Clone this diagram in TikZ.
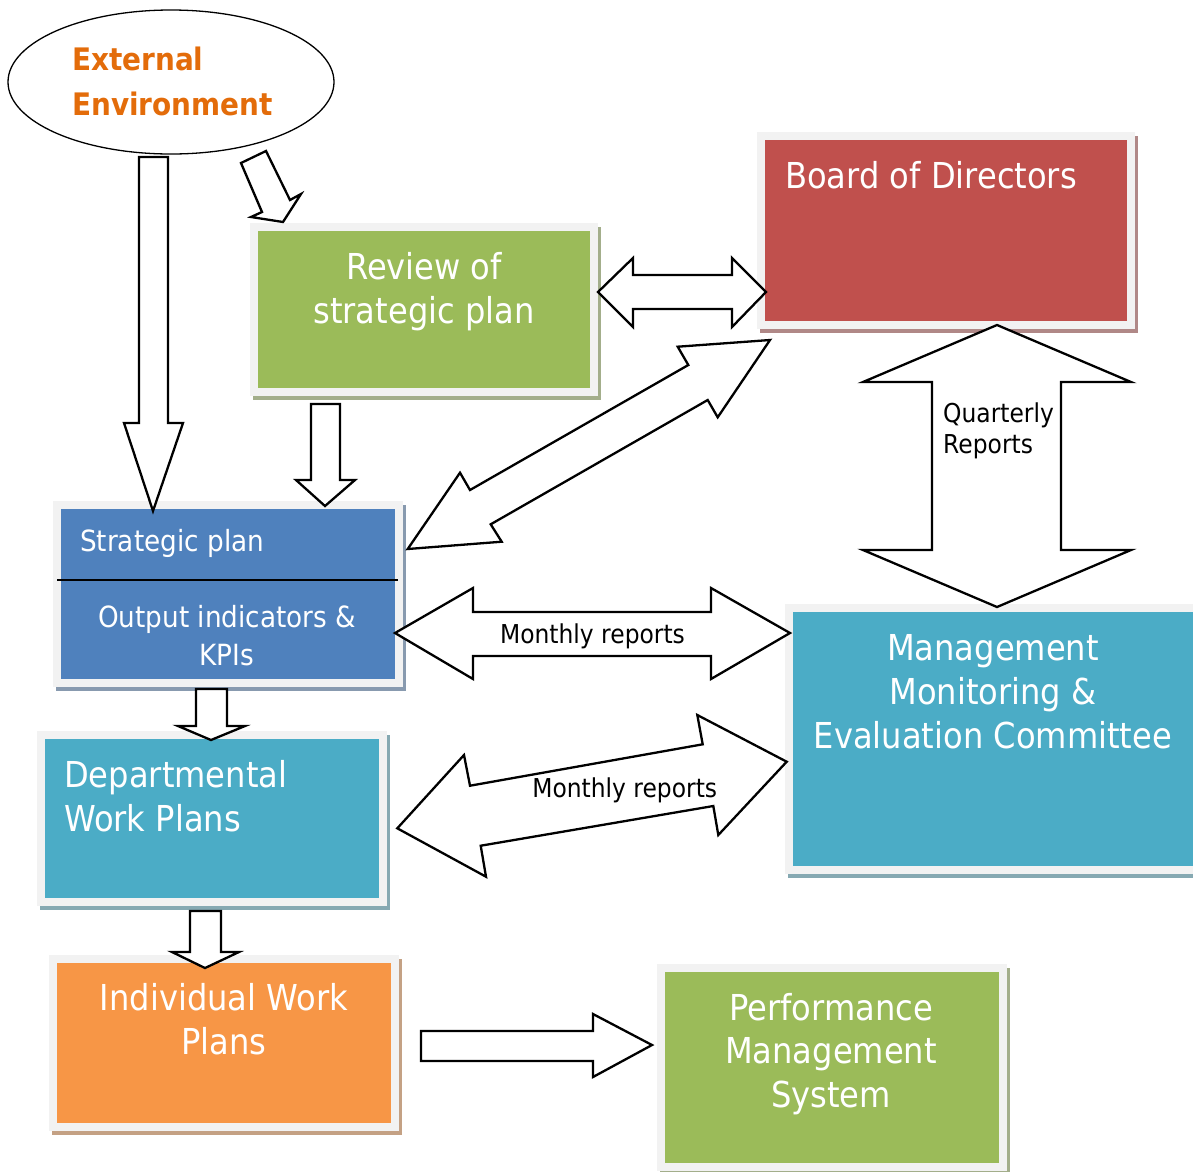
\documentclass[tikz,border=0pt]{standalone}
\usepackage{fontspec}
\setmainfont{DejaVu Sans}[FakeStretch=0.9]
\usetikzlibrary{shapes.geometric}
\definecolor{cgreen}{HTML}{9BBB59}
\definecolor{cred}{HTML}{C0504D}
\definecolor{cblue}{HTML}{4F81BD}
\definecolor{cteal}{HTML}{4BACC6}
\definecolor{corange}{HTML}{F79646}
\definecolor{ctext}{HTML}{E36C0A}
\definecolor{cframe}{HTML}{F2F2F2}
\newcommand\fbig{\fontsize{35.7}{43}\selectfont}
\newcommand\fmid{\fontsize{29.2}{36}\selectfont}
\newcommand\fsmall{\fontsize{26}{31}\selectfont}
\newcommand\fext{\bfseries\fontsize{31}{40}\selectfont}
% name, x1, y1, x2, y2, colour
\newcommand\panel[6]{%
  \fill[#6!45!gray!80] (#2+3,#3+4) rectangle (#4+3,#5+4);
  \fill[cframe] (#2,#3) rectangle (#4,#5);
  \node[fill=#6, inner sep=0, minimum width={#4-#2-16}, minimum height={#5-#3-16}]
     (#1) at ({(#2+#4)/2},{(#3+#5)/2}) {};
}
\tikzset{
  blk/.style={draw=black, fill=white, line width=2.3pt, line join=miter},
  wtxt/.style={text=white, inner sep=0},
  btxt/.style={text=black, inner sep=0},
}
\begin{document}
\begin{tikzpicture}[x=1pt, y=-1pt]
\useasboundingbox (0,0) rectangle (1193,1171);
\clip (0,0) rectangle (1193,1171);

% panels
\panel{review}{250}{223}{598}{396}{cgreen}
\panel{board}{757}{132}{1135}{329}{cred}
\panel{strat}{53}{501}{403}{687}{cblue}
\panel{mgmt}{785}{604}{1209}{874}{cteal}
\panel{dept}{37}{731}{387}{906}{cteal}
\panel{indiv}{49}{955}{399}{1131}{corange}
\panel{perf}{657}{964}{1007}{1171}{cgreen}
\draw[line width=2pt] (57,580) -- (398,580);

% ellipse
\node[draw, ellipse, line width=1.3pt, minimum width=326, minimum height=144, inner sep=0] (ext) at (171,82) {};
\node[anchor=base west, text=ctext, inner sep=0, font=\fext] (ext1) at (72,70) {External};
\node[anchor=base west, text=ctext, inner sep=0, font=\fext] (ext2) at (72,115) {Environment};

% texts in panels
\node[wtxt, anchor=base, font=\fbig] (rv1) at (424,279) {Review of};
\node[wtxt, anchor=base, font=\fbig] (rv2) at (424,323) {strategic plan};
\node[wtxt, anchor=base west, font=\fbig] (bd1) at (785,188) {Board of Directors};
\node[wtxt, anchor=base west, font=\fmid] (sp1) at (80,551) {Strategic plan};
\node[wtxt, anchor=base, font=\fmid] (sp2) at (227,627) {Output indicators \&};
\node[wtxt, anchor=base, font=\fmid] (sp3) at (227,665) {KPIs};
\node[wtxt, anchor=base, font=\fbig] (mg1) at (993,660) {Management};
\node[wtxt, anchor=base, font=\fbig] (mg2) at (993,704) {Monitoring \&};
\node[wtxt, anchor=base, font=\fbig] (mg3) at (993,748) {Evaluation Committee};
\node[wtxt, anchor=base west, font=\fbig] (dp1) at (64,787) {Departmental};
\node[wtxt, anchor=base west, font=\fbig] (dp2) at (64,831) {Work Plans};
\node[wtxt, anchor=base, font=\fbig] (iw1) at (224,1010) {Individual Work};
\node[wtxt, anchor=base, font=\fbig] (iw2) at (224,1054) {Plans};
\node[wtxt, anchor=base, font=\fbig] (pm1) at (831,1020) {Performance};
\node[wtxt, anchor=base, font=\fbig] (pm2) at (831,1063) {Management};
\node[wtxt, anchor=base, font=\fbig] (pm3) at (831,1107) {System};

% block arrows
\draw[blk] (139,157) -- (168,157) -- (168,423) -- (183,423) -- (153,511) -- (124,423) -- (139,423) -- cycle;
\draw[blk] (241,163) -- (266,151) -- (290,200) -- (301,194) -- (283,222) -- (251,217) -- (262,212) -- cycle;
\draw[blk] (311,404) -- (340,404) -- (340,480) -- (355,480) -- (325,506) -- (296,480) -- (311,480) -- cycle;
\draw[blk] (598,292) -- (633,258) -- (633,275) -- (732,275) -- (732,258) -- (766,292) -- (732,327) -- (732,309) -- (633,309) -- (633,327) -- cycle;
\draw[blk] (770,340) -- (677.7,346.7) -- (688.3,365) -- (470,490) -- (460,472.7) -- (407.7,549) -- (501.7,541.7) -- (490.7,524.3) -- (707.7,400) -- (717.7,417.3) -- cycle;
\draw[blk] (997,325) -- (1131,382) -- (1061,382) -- (1061,550) -- (1131,550) -- (997,607) -- (863,550) -- (932,550) -- (932,382) -- (863,382) -- cycle;
\draw[blk] (395,633) -- (473,588) -- (473,612) -- (711,612) -- (711,588) -- (790,633) -- (711,679) -- (711,656) -- (473,656) -- (473,679) -- cycle;
\draw[blk] (397.3,828.3) -- (464,755) -- (470,785.7) -- (702.7,744.3) -- (697.3,715) -- (786.7,761.7) -- (718.3,835) -- (713.3,806) -- (480.7,845.7) -- (486,876.7) -- cycle;
\draw[blk] (196,689) -- (227,689) -- (227,726) -- (245,726) -- (211,740) -- (178,726) -- (196,726) -- cycle;
\draw[blk] (190,911) -- (221,911) -- (221,952) -- (239,952) -- (205,968) -- (172,952) -- (190,952) -- cycle;
\draw[blk] (421,1031) -- (593,1031) -- (593,1014) -- (652,1045) -- (593,1077) -- (593,1061) -- (421,1061) -- cycle;

% arrow labels
\node[btxt, anchor=base west, font=\fsmall] (q1) at (943,422) {Quarterly};
\node[btxt, anchor=base west, font=\fsmall] (q2) at (943,453) {Reports};
\node[btxt, anchor=base, font=\fsmall] (mr1) at (592.5,643) {Monthly reports};
\node[btxt, anchor=base, font=\fsmall] (mr2) at (624.7,797) {Monthly reports};
\end{tikzpicture}
\end{document}
